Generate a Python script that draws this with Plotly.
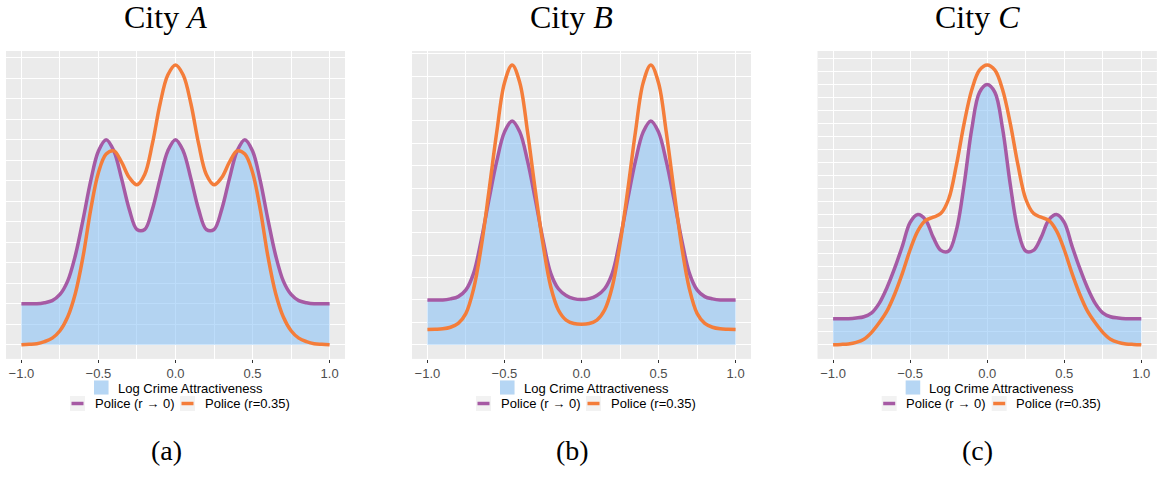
import plotly.graph_objects as go

# ---------------- data ----------------
X = [-1.0, -0.95, -0.9, -0.85, -0.8, -0.75, -0.7, -0.65, -0.6, -0.55, -0.5,
     -0.45, -0.4, -0.35, -0.3, -0.25, -0.2, -0.15, -0.1, -0.05, 0.0,
     0.05, 0.1, 0.15, 0.2, 0.25, 0.3, 0.35, 0.4, 0.45, 0.5,
     0.55, 0.6, 0.65, 0.7, 0.75, 0.8, 0.85, 0.9, 0.95, 1.0]

# City A
A_police_r0 = [2.0, 2.0, 2.0, 2.05, 2.15, 2.45, 3.1, 4.35, 6.1, 8.0, 9.45,
               10.0, 9.45, 8.1, 6.6, 5.62, 5.62, 6.6, 8.1, 9.45, 10.0,
               9.45, 8.1, 6.6, 5.62, 5.62, 6.6, 8.1, 9.45, 10.0, 9.45,
               8.0, 6.1, 4.35, 3.1, 2.45, 2.15, 2.05, 2.0, 2.0, 2.0]
A_police_r035 = [0.0, 0.02, 0.05, 0.15, 0.32, 0.68, 1.35, 2.5, 4.3, 6.6, 8.4,
                 9.3, 9.45, 8.9, 8.15, 7.8, 8.3, 9.8, 11.75, 13.15, 13.64,
                 13.15, 11.75, 9.8, 8.3, 7.8, 8.15, 8.9, 9.45, 9.3, 8.4,
                 6.6, 4.3, 2.5, 1.35, 0.68, 0.32, 0.15, 0.05, 0.02, 0.0]

# City B
B_police_r0 = [2.0, 2.0, 2.0, 2.05, 2.15, 2.45, 3.2, 4.7, 6.5, 8.2, 9.5,
               10.0, 9.5, 8.2, 6.5, 4.7, 3.2, 2.5, 2.2, 2.06, 2.02,
               2.06, 2.2, 2.5, 3.2, 4.7, 6.5, 8.2, 9.5, 10.0, 9.5,
               8.2, 6.5, 4.7, 3.2, 2.45, 2.15, 2.05, 2.0, 2.0, 2.0]
B_police_r035 = [0.68, 0.69, 0.71, 0.78, 0.95, 1.4, 2.5, 4.4, 6.9, 9.5, 11.7,
                 12.5, 11.7, 9.5, 6.9, 4.5, 2.6, 1.55, 1.1, 0.95, 0.92,
                 0.95, 1.1, 1.55, 2.6, 4.5, 6.9, 9.5, 11.7, 12.5, 11.7,
                 9.5, 6.9, 4.4, 2.5, 1.4, 0.95, 0.78, 0.71, 0.69, 0.68]

# City C
C_police_r0 = [2.0, 2.0, 2.0, 2.05, 2.15, 2.45, 3.2, 4.4, 5.9, 7.6, 9.4,
               10.0, 9.6, 8.25, 7.25, 7.2, 8.8, 12.3, 16.6, 19.4, 20.0,
               19.4, 16.6, 12.3, 8.8, 7.2, 7.25, 8.25, 9.6, 10.0, 9.4,
               7.6, 5.9, 4.4, 3.2, 2.45, 2.15, 2.05, 2.0, 2.0, 2.0]
C_police_r035 = [0.0, 0.02, 0.06, 0.18, 0.42, 0.95, 1.7, 2.6, 3.9, 5.5, 7.3,
                 8.75, 9.55, 9.8, 10.1, 11.2, 13.8, 17.0, 19.6, 21.1, 21.5,
                 21.1, 19.6, 17.0, 13.8, 11.2, 10.1, 9.8, 9.55, 8.75, 7.3,
                 5.5, 3.9, 2.6, 1.7, 0.95, 0.42, 0.18, 0.06, 0.02, 0.0]

CITIES = ["A", "B", "C"]
CAPTIONS = ["(a)", "(b)", "(c)"]
SERIES_R0 = [A_police_r0, B_police_r0, C_police_r0]
SERIES_R035 = [A_police_r035, B_police_r035, C_police_r035]

TICK_VALS = [-1.0, -0.5, 0.0, 0.5, 1.0]
TICK_TEXT = ["\u22121.0", "\u22120.5", "0.0", "0.5", "1.0"]
MINOR_TICKS = [-0.75, -0.25, 0.25, 0.75]

LEG_FILL = "Log Crime Attractiveness"
LEG_R0 = "Police (r \u2192 0)"
LEG_R035 = "Police (r=0.35)"

# ---------------- styling ----------------
W, H = 1159, 478
PANEL_LEFT = [6, 412, 817.7]
PANEL_W = 339
PANEL_TOP, PANEL_BOTTOM = 51, 358.7

PURPLE = "#A65AA4"
ORANGE = "#F47D3A"
FILL = "rgba(133,191,245,0.55)"
BG = "#EBEBEB"
KEYBG = "#F2F2F2"
SANS = "Liberation Sans, Arial, sans-serif"
SERIF = "Liberation Serif, Times New Roman, serif"


def px(x):
    return x / W


def py(y):
    return 1 - y / H


fig = go.Figure()
shapes = []
annotations = []

for i in range(3):
    xa = "x" if i == 0 else f"x{i+1}"
    ya = "y" if i == 0 else f"y{i+1}"
    p = SERIES_R0[i]
    o = SERIES_R035[i]

    fig.add_trace(go.Scatter(x=X, y=p, mode="lines", fill="tozeroy",
                             fillcolor=FILL, line=dict(width=0, shape="spline"),
                             name=LEG_FILL, showlegend=False, xaxis=xa, yaxis=ya,
                             hoverinfo="skip"))
    fig.add_trace(go.Scatter(x=X, y=p, mode="lines",
                             line=dict(color=PURPLE, width=3.5, shape="spline"),
                             name=LEG_R0, showlegend=False, xaxis=xa, yaxis=ya))
    fig.add_trace(go.Scatter(x=X, y=o, mode="lines",
                             line=dict(color=ORANGE, width=3.5, shape="spline"),
                             name=LEG_R035, showlegend=False, xaxis=xa, yaxis=ya))

    ymax = max(max(p), max(o))
    left = PANEL_LEFT[i]
    xdom = [px(left), px(left + PANEL_W)]
    ydom = [py(PANEL_BOTTOM), py(PANEL_TOP)]
    key = "xaxis" if i == 0 else f"xaxis{i+1}"
    ykey = "yaxis" if i == 0 else f"yaxis{i+1}"
    fig.layout[key] = dict(
        domain=xdom, anchor=ya, range=[-1.1, 1.1],
        tickmode="array", tickvals=TICK_VALS, ticktext=TICK_TEXT,
        ticks="outside", ticklen=3, tickwidth=1, tickcolor="#333333",
        tickfont=dict(family=SANS, size=13, color="#4D4D4D"),
        showgrid=True, gridcolor="white", gridwidth=1.1,
        minor=dict(tickmode="array", tickvals=MINOR_TICKS, showgrid=True,
                   gridcolor="white", gridwidth=1.0, ticks=""),
        zeroline=False, showline=False, fixedrange=True,
    )
    fig.layout[ykey] = dict(
        domain=ydom, anchor=xa, range=[-0.05 * ymax, 1.05 * ymax],
        tick0=0, dtick=1, showticklabels=False, ticks="",
        showgrid=True, gridcolor="white", gridwidth=1.1,
        zeroline=False, showline=False, fixedrange=True,
    )

    # panel background
    shapes.append(dict(type="rect", xref="paper", yref="paper",
                       x0=xdom[0], x1=xdom[1], y0=ydom[0], y1=ydom[1],
                       fillcolor=BG, line=dict(width=0), layer="below"))

    dx = left - 6
    # title
    annotations.append(dict(text=f"City <i>{CITIES[i]}</i>", x=px(dx + 165.5), y=py(17),
                            xref="paper", yref="paper", xanchor="center", yanchor="middle",
                            showarrow=False, font=dict(family=SERIF, size=32, color="black")))
    # caption
    annotations.append(dict(text=CAPTIONS[i], x=px(dx + 166), y=py(450),
                            xref="paper", yref="paper", xanchor="center", yanchor="middle",
                            showarrow=False, font=dict(family=SERIF, size=28, color="black")))

    # legend row 1 (fill key)
    shapes.append(dict(type="rect", xref="paper", yref="paper",
                       x0=px(dx + 94), x1=px(dx + 108.5), y0=py(394.5), y1=py(380.5),
                       fillcolor=KEYBG, line=dict(width=0)))
    shapes.append(dict(type="rect", xref="paper", yref="paper",
                       x0=px(dx + 94), x1=px(dx + 108.5), y0=py(394.5), y1=py(380.5),
                       fillcolor=FILL, line=dict(width=0)))
    annotations.append(dict(text=LEG_FILL, x=px(dx + 115.5), y=py(388),
                            xref="paper", yref="paper", xanchor="left", yanchor="middle",
                            showarrow=False,
                            font=dict(family=SANS, size=13, color="black")))
    # legend row 2 (line keys)
    for kx, tx, col, lab in [(70, 92.5, PURPLE, LEG_R0), (180, 202.5, ORANGE, LEG_R035)]:
        shapes.append(dict(type="rect", xref="paper", yref="paper",
                           x0=px(dx + kx), x1=px(dx + kx + 15), y0=py(411), y1=py(396),
                           fillcolor=KEYBG, line=dict(width=0)))
        shapes.append(dict(type="line", xref="paper", yref="paper",
                           x0=px(dx + kx + 1.5), x1=px(dx + kx + 13.5), y0=py(403.5), y1=py(403.5),
                           line=dict(color=col, width=3.5)))
        annotations.append(dict(text=lab, x=px(dx + tx), y=py(403.5),
                                xref="paper", yref="paper", xanchor="left", yanchor="middle",
                                showarrow=False,
                                font=dict(family=SANS, size=13, color="black")))

fig.update_layout(
    width=W, height=H,
    margin=dict(l=0, r=0, t=0, b=0),
    paper_bgcolor="white", plot_bgcolor=BG,
    showlegend=False,
    shapes=shapes, annotations=annotations,
)

fig.write_html("out.html", config={"displayModeBar": False},
               post_script="document.body.style.margin='0';document.body.style.overflow='hidden';")
